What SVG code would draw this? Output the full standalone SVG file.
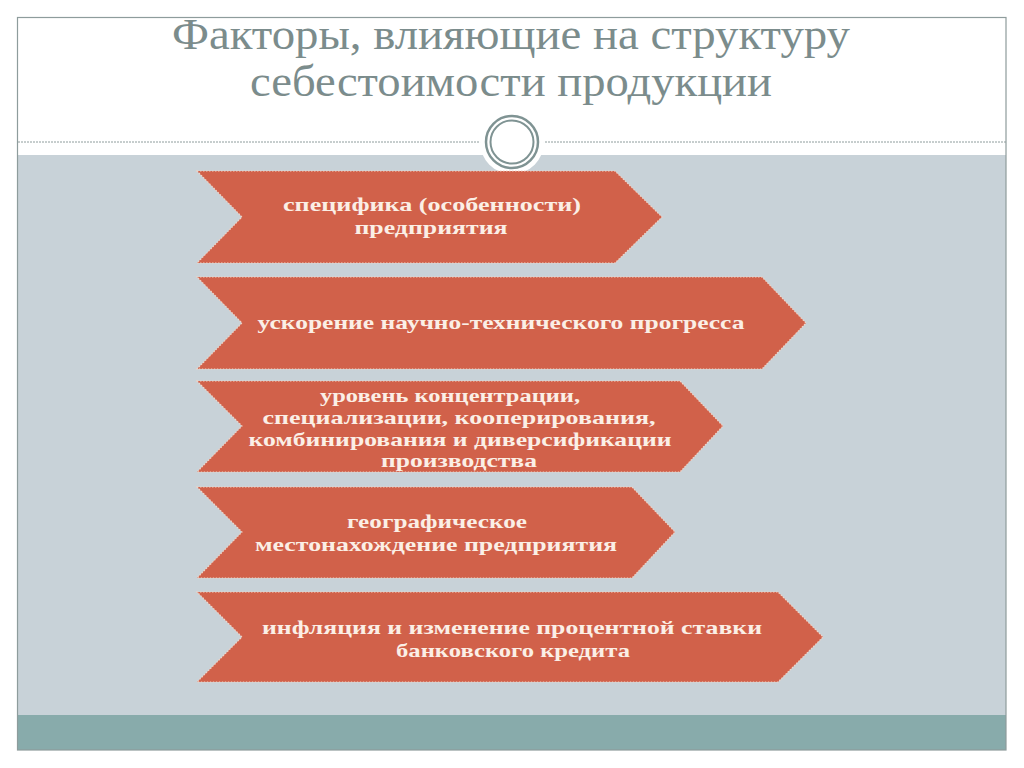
<svg xmlns="http://www.w3.org/2000/svg" width="1024" height="768" viewBox="0 0 1024 768">
<style>
.title{font-family:"Liberation Serif","DejaVu Serif",serif;font-size:44px;fill:#7b8c8c;text-anchor:middle}
.chev{fill:#d1614a;stroke:#f2d3c4;stroke-width:1.2;stroke-dasharray:1.5 1.5}
.lbl{font-family:"Liberation Serif","DejaVu Serif",serif;font-size:19px;font-weight:bold;fill:#fbefe6;text-anchor:middle}
</style>
<rect x="0" y="0" width="1024" height="768" fill="#ffffff"/>
<g id="frame">
<rect x="17" y="155" width="989" height="560" fill="#c8d2d8"/>
<rect x="17" y="715" width="989" height="35" fill="#88abab"/>
<rect x="17.5" y="17.5" width="988.5" height="732.5" fill="none" stroke="#8e9c9c" stroke-width="1.2"/>
<line x1="18" y1="142" x2="482" y2="142" stroke="#8e9c9c" stroke-width="1" stroke-dasharray="2 1"/>
<line x1="542" y1="142" x2="1006" y2="142" stroke="#8e9c9c" stroke-width="1" stroke-dasharray="2 1"/>
<circle cx="512" cy="142" r="32" fill="#ffffff"/>
<circle cx="512" cy="142" r="26" fill="none" stroke="#7f9393" stroke-width="2.5"/>
<circle cx="512" cy="142" r="21.5" fill="none" stroke="#7f9393" stroke-width="2"/>
</g>
<g id="title">
<text class="title" x="511" y="49" textLength="678" lengthAdjust="spacingAndGlyphs">Факторы, влияющие на структуру</text>
<text class="title" x="511" y="96" textLength="522" lengthAdjust="spacingAndGlyphs">себестоимости продукции</text>
</g>
<g id="connectors"></g>
<g id="node1">
<polygon class="chev" points="197,171 615,171 662,217 615,263 197,263 242,217"/>
<text class="lbl" x="432" y="211" textLength="298" lengthAdjust="spacingAndGlyphs">специфика (особенности)</text>
<text class="lbl" x="431" y="234" textLength="153" lengthAdjust="spacingAndGlyphs">предприятия</text>
</g>
<g id="node2">
<polygon class="chev" points="197,277 762,277 806,323 762,369 197,369 242,323"/>
<text class="lbl" x="501" y="329" textLength="487" lengthAdjust="spacingAndGlyphs">ускорение научно-технического прогресса</text>
</g>
<g id="node3">
<polygon class="chev" points="197,381 680,381 723,426 680,472 197,472 242,426"/>
<text class="lbl" x="450" y="402" textLength="260" lengthAdjust="spacingAndGlyphs">уровень концентрации,</text>
<text class="lbl" x="459" y="424" textLength="393" lengthAdjust="spacingAndGlyphs">специализации, кооперирования,</text>
<text class="lbl" x="460" y="446" textLength="423" lengthAdjust="spacingAndGlyphs">комбинирования и диверсификации</text>
<text class="lbl" x="459" y="467" textLength="156" lengthAdjust="spacingAndGlyphs">производства</text>
</g>
<g id="node4">
<polygon class="chev" points="197,487 632,487 675,532 632,578 197,578 242,532"/>
<text class="lbl" x="437" y="528" textLength="180" lengthAdjust="spacingAndGlyphs">географическое</text>
<text class="lbl" x="436" y="551" textLength="362" lengthAdjust="spacingAndGlyphs">местонахождение предприятия</text>
</g>
<g id="node5">
<polygon class="chev" points="197,592 778,592 823,637 778,682 197,682 242,637"/>
<text class="lbl" x="512" y="634" textLength="500" lengthAdjust="spacingAndGlyphs">инфляция и изменение процентной ставки</text>
<text class="lbl" x="513" y="657" textLength="234" lengthAdjust="spacingAndGlyphs">банковского кредита</text>
</g>
</svg>
